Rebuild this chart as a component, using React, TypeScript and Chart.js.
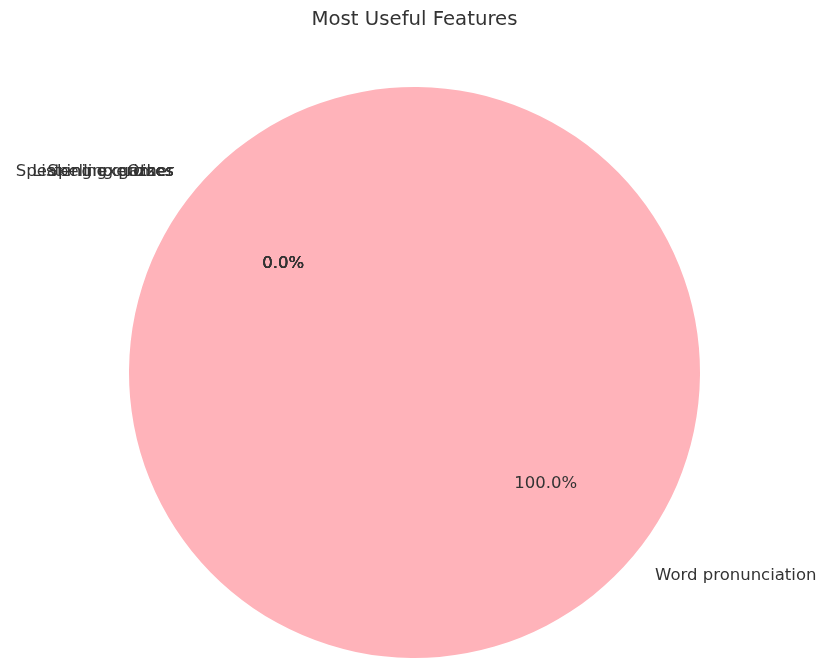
import React, { useEffect, useRef } from "react";
import { Chart, registerables } from "chart.js";

Chart.register(...registerables);

const TITLE = "Most Useful Features";
const categories = ["Speaking exercises", "Listening quizzes", "Spelling games", "Other", "Word pronunciation"];
const values = [0, 0, 0, 0, 100];
const colors = ["#baffc9", "#ffdfba", "#ffffba", "#bae1ff", "#ffb3ba"];

const FONT = "'DejaVu Sans', sans-serif";

const labelPlugin = {
  id: "pieLabels",
  afterDraw(chart: any) {
    const ctx = chart.ctx;
    const meta = chart.getDatasetMeta(0);
    const total = values.reduce((a, b) => a + b, 0);
    ctx.save();
    ctx.fillStyle = "#333333";
    ctx.font = `19.7px ${FONT}`;
    ctx.textAlign = "center";
    ctx.textBaseline = "middle";
    ctx.fillText(TITLE, 414.5, 20);
    meta.data.forEach((arc: any, i: number) => {
      const mid = (arc.startAngle + arc.endAngle) / 2;
      const r = arc.outerRadius;
      const cx = arc.x, cy = arc.y + 1;
      const c = Math.cos(mid), s = Math.sin(mid);
      ctx.font = `16.5px ${FONT}`;
      ctx.fillStyle = "#333333";
      ctx.textBaseline = "middle";
      ctx.textAlign = c < 0 ? "right" : "left";
      ctx.fillText(categories[i], cx + 1.1 * r * c, cy + 1.1 * r * s);
      ctx.textAlign = "center";
      const pct = ((values[i] / total) * 100).toFixed(1) + "%";
      ctx.fillText(pct, cx + 0.6 * r * c, cy + 0.6 * r * s);
    });
    ctx.restore();
  },
};

export default function App() {
  const ref = useRef<HTMLCanvasElement>(null);
  useEffect(() => {
    document.body.style.margin = "0";
    const chart = new Chart(ref.current!, {
      type: "pie",
      data: {
        labels: categories,
        datasets: [
          {
            data: values,
            backgroundColor: colors,
            borderWidth: 0,
          },
        ],
      },
      options: {
        animation: false,
        responsive: false,
        rotation: -50,
        layout: { padding: { left: 128, right: 119, top: 87, bottom: 1 } },
        plugins: {
          legend: { display: false },
          tooltip: { enabled: false },
          title: { display: false },
        },
        events: [],
      },
      plugins: [labelPlugin],
    });
    return () => chart.destroy();
  }, []);
  return (
    <div style={{ width: 820, height: 659, background: "#fff" }}>
      <canvas ref={ref} width={820} height={659} style={{ display: "block" }} />
    </div>
  );
}
